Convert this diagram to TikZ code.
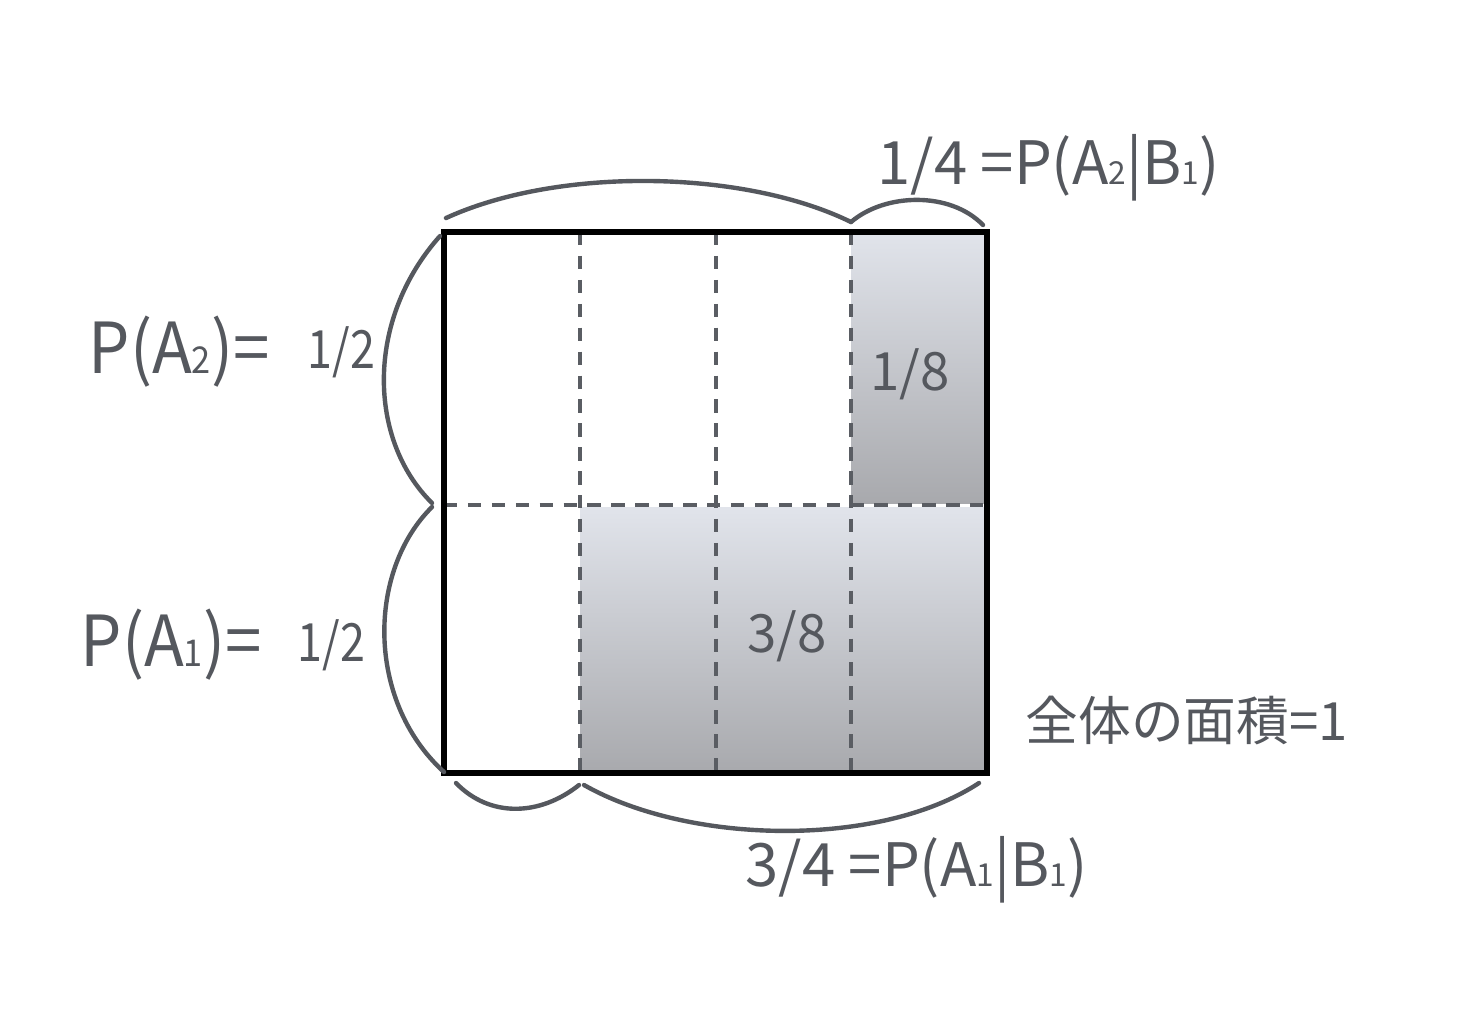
\documentclass[tikz,border=0pt]{standalone}
\usepackage{fontspec}
\setmainfont{Noto Sans CJK JP}
\begin{document}
\definecolor{txt}{HTML}{55585E}
\definecolor{dsh}{HTML}{5A5D63}
\definecolor{gtop}{HTML}{E1E4EB}
\definecolor{gbot}{HTML}{A8A9AD}
\begin{tikzpicture}[x=0.01cm,y=-0.01cm,
  brace/.style={draw=txt,line width=1.25pt,line cap=round},
  grid/.style={draw=dsh,line width=1.25pt,dash pattern=on 3.8pt off 3.0pt},
  lbl/.style={text=txt,inner sep=0pt,font=\fontsize{15pt}{18pt}\selectfont},
  big/.style={text=txt,inner sep=0pt,font=\fontsize{20pt}{24pt}\selectfont},
  mid/.style={text=txt,inner sep=0pt,font=\fontsize{17pt}{20pt}\selectfont}]
\newcommand{\sbs}[1]{{\fontsize{9pt}{10pt}\selectfont #1}}
\newcommand{\sbm}[1]{{\fontsize{10.5pt}{11pt}\selectfont #1}}
\useasboundingbox[fill=white] (0,0) rectangle (1480,1020);
% shading
\shade[top color=gtop,bottom color=gbot] (851,232) rectangle (987,503);
\shade[top color=gtop,bottom color=gbot] (580,507) rectangle (987,773);
% grid
\coordinate (v1t) at (580,232); \coordinate (v1b) at (580,773);
\coordinate (v2t) at (716,232); \coordinate (v2b) at (716,773);
\coordinate (v3t) at (851,232); \coordinate (v3b) at (851,773);
\coordinate (hl) at (444,505); \coordinate (hr) at (987,505);
\draw[grid] (v1t) -- (v1b);
\draw[grid] (v2t) -- (v2b);
\draw[grid] (v3t) -- (v3b);
\draw[grid] (hl) -- (hr);
% square
\draw[black,line width=1.45pt] (444,232) rectangle (987,773);
% braces
\coordinate (tb1) at (446,218); \coordinate (tb2) at (851,222); \coordinate (tb3) at (983,225);
\draw[brace] (tb1) .. controls (560,166) and (745,170) .. (tb2);
\draw[brace] (tb2) .. controls (885,193) and (950,191) .. (tb3);
\coordinate (lb1) at (440,236); \coordinate (lb2) at (432,503); \coordinate (lb3) at (444,772);
\coordinate (lb2b) at (432,507);
\draw[brace] (lb1) .. controls (365,320) and (368,440) .. (lb2);
\draw[brace] (lb2b) .. controls (368,570) and (365,700) .. (lb3);
\coordinate (bb1) at (456,783); \coordinate (bb2) at (579,785); \coordinate (bb2b) at (584,785); \coordinate (bb3) at (979,783);
\draw[brace] (bb1) .. controls (490,818) and (540,816) .. (bb2);
\draw[brace] (bb2b) .. controls (690,845) and (880,848) .. (bb3);
% labels
\node[mid,anchor=west] (ltop) at (877,168) {1/4 =P(A\sbs{2}|B\sbs{1})};
\node[big,anchor=west] (la2) at (88,352) {\scalebox{0.93}[1]{P(A\sbm{2})=}};
\node[lbl,anchor=east] (la2v) at (376,352) {\scalebox{0.85}[1]{1/2}};
\node[big,anchor=west] (la1) at (80,645) {\scalebox{0.93}[1]{P(A\sbm{1})=}};
\node[lbl,anchor=east] (la1v) at (366,645) {\scalebox{0.85}[1]{1/2}};
\node[lbl] (c18) at (910,374) {1/8};
\node[lbl] (c38) at (787,636) {3/8};
\node[lbl,anchor=west] (area) at (1025,720) {全体の面積=1};
\node[mid,anchor=west] (lbot) at (745,870) {3/4 =P(A\sbs{1}|B\sbs{1})};
\end{tikzpicture}
\end{document}
